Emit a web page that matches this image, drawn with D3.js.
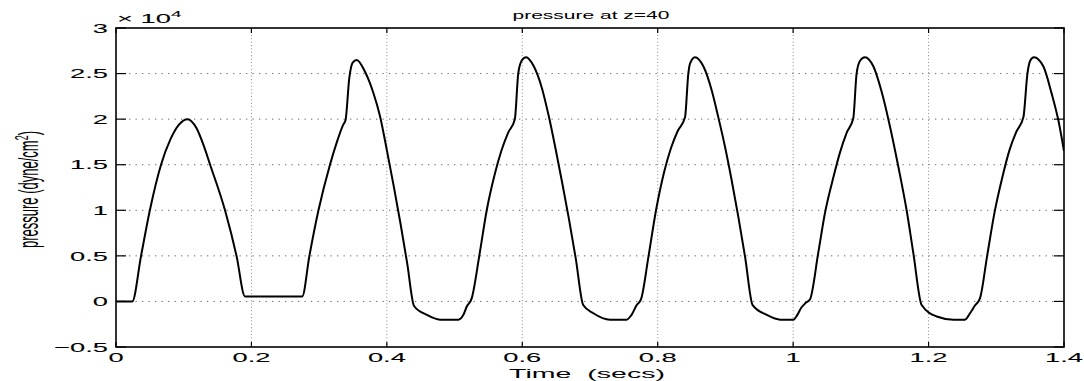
<!DOCTYPE html>
<html>
<head>
<meta charset="utf-8">
<script src="https://cdn.jsdelivr.net/npm/d3@7.9.0/dist/d3.min.js"></script>
<style>
  html, body { margin: 0; padding: 0; background: #fff; }
  svg { display: block; font-family: "Liberation Sans", Arial, Helvetica, sans-serif; }
</style>
</head>
<body>
<svg id="chart" width="1084" height="381"></svg>
<script>
// time in secs, pressure in units of 1e4 dyne/cm^2
const time = [
  0, 0.024, 0.037, 0.050, 0.0665, 0.0805, 0.093, 0.1056, 0.119, 0.129, 0.139, 0.161, 0.178, 0.1905,
  0.275, 0.2856, 0.299, 0.316, 0.3258, 0.3356, 0.339, 0.3445, 0.3495, 0.3555, 0.3677, 0.380, 0.390, 0.400,
  0.410, 0.420, 0.430, 0.4402, 0.4588, 0.4785, 0.5056, 0.513, 0.518, 0.5254, 0.5365, 0.5475, 0.5595, 0.569,
  0.579, 0.589, 0.594, 0.599, 0.6055, 0.617, 0.629, 0.6395, 0.649, 0.659, 0.669, 0.679, 0.690, 0.705, 0.7296, 0.754,
  0.7614, 0.769, 0.7754, 0.7865, 0.7975, 0.8095, 0.8195, 0.8295, 0.8403, 0.8452, 0.8477, 0.855, 0.8674, 0.8796,
  0.8895, 0.8993, 0.9092, 0.919, 0.929, 0.9402, 0.961, 0.981, 1.0003, 1.006, 1.012, 1.018, 1.025, 1.037,
  1.047, 1.0597, 1.069, 1.079, 1.0888, 1.0937, 1.0988, 1.106, 1.1184, 1.1307, 1.143, 1.1553, 1.1676, 1.1775,
  1.1898, 1.212, 1.2366, 1.2538, 1.2612, 1.268, 1.276, 1.2865, 1.2975, 1.3095, 1.3195, 1.3295, 1.34, 1.346, 1.35,
  1.3556, 1.3694, 1.3818, 1.3916, 1.4
];
const pressure = [
  0, 0, 0.5, 1.0, 1.5, 1.78, 1.94, 2.0, 1.9, 1.72, 1.5, 1.0, 0.5, 0.055,
  0.055, 0.5, 1.0, 1.5, 1.74, 1.94, 1.99, 2.45, 2.62, 2.65, 2.52, 2.29, 2.03, 1.66,
  1.27, 0.86, 0.42, -0.05, -0.147, -0.2, -0.2, -0.147, -0.056, 0.036, 0.5, 1.0, 1.4, 1.65,
  1.85, 2.0, 2.5, 2.64, 2.68, 2.58, 2.34, 2.02, 1.68, 1.30, 0.9, 0.47, -0.04, -0.13, -0.2, -0.2,
  -0.147, -0.04, 0.025, 0.5, 1.0, 1.42, 1.68, 1.87, 2.02, 2.5, 2.61, 2.68, 2.58, 2.32,
  2.02, 1.70, 1.33, 0.93, 0.49, -0.04, -0.147, -0.2, -0.2, -0.15, -0.07, -0.02, 0.025, 0.53,
  0.97, 1.37, 1.63, 1.85, 2.01, 2.5, 2.64, 2.68, 2.58, 2.30, 1.92, 1.48, 1.0, 0.53,
  -0.04, -0.165, -0.2, -0.2, -0.13, -0.05, 0.036, 0.5, 0.98, 1.38, 1.66, 1.86, 2.02, 2.5, 2.64,
  2.68, 2.58, 2.28, 1.99, 1.65
];
const xTicks = [0, 0.2, 0.4, 0.6, 0.8, 1, 1.2, 1.4];
const xTickLabels = ['0', '0.2', '0.4', '0.6', '0.8', '1', '1.2', '1.4'];
const yTicks = [-0.5, 0, 0.5, 1, 1.5, 2, 2.5, 3];
const yTickLabels = ['\u22120.5', '0', '0.5', '1', '1.5', '2', '2.5', '3'];

const SX = 2.1; // the figure's text is stretched horizontally
const FS = 13;
const margin = { left: 116, right: 20, top: 28, bottom: 34 };
const W = 1084, H = 381;

const svg = d3.select('#chart');
const x = d3.scaleLinear().domain([0, 1.4]).range([margin.left, W - margin.right]);
const y = d3.scaleLinear().domain([-0.5, 3]).range([H - margin.bottom, margin.top]);

function stretchedText(g, px, py, str, anchor, size) {
  return g.append('text')
    .attr('transform', `translate(${px},${py}) scale(${SX},1)`)
    .attr('text-anchor', anchor)
    .attr('font-size', size)
    .attr('fill', '#000')
    .attr('stroke', '#000')
    .attr('stroke-width', 0.08)
    .text(str);
}

// grid
const grid = svg.append('g');
grid.selectAll('line.h')
  .data(yTicks.slice(1, -1))
  .join('line')
  .attr('x1', x(0)).attr('x2', x(1.4))
  .attr('y1', d => y(d)).attr('y2', d => y(d))
  .attr('stroke', '#666').attr('stroke-width', 1)
  .attr('stroke-dasharray', '1.3,5.2');
grid.selectAll('line.v')
  .data(xTicks.slice(1, -1))
  .join('line')
  .attr('x1', d => x(d)).attr('x2', d => x(d))
  .attr('y1', y(3)).attr('y2', y(-0.5))
  .attr('stroke', '#888').attr('stroke-width', 1)
  .attr('stroke-dasharray', '1,2.4');

// curve
svg.append('clipPath').attr('id', 'clip')
  .append('rect')
  .attr('x', x(0)).attr('y', y(3))
  .attr('width', x(1.4) - x(0)).attr('height', y(-0.5) - y(3));

const pts = time.map((t, i) => [t, pressure[i]]);
const line = d3.line()
  .x(d => x(d[0]))
  .y(d => y(d[1]))
  .curve(d3.curveMonotoneX);

svg.append('path')
  .datum(pts)
  .attr('clip-path', 'url(#clip)')
  .attr('d', line)
  .attr('fill', 'none')
  .attr('stroke', '#000')
  .attr('stroke-width', 2)
  .attr('stroke-linejoin', 'round');

// box and inward ticks on all sides
const axisG = svg.append('g');
axisG.append('rect')
  .attr('x', x(0)).attr('y', y(3))
  .attr('width', x(1.4) - x(0)).attr('height', y(-0.5) - y(3))
  .attr('fill', 'none').attr('stroke', '#000').attr('stroke-width', 1.6);

xTicks.forEach(t => {
  axisG.append('line').attr('x1', x(t)).attr('x2', x(t))
    .attr('y1', y(-0.5)).attr('y2', y(-0.5) - 5)
    .attr('stroke', '#000').attr('stroke-width', 1.2);
  axisG.append('line').attr('x1', x(t)).attr('x2', x(t))
    .attr('y1', y(3)).attr('y2', y(3) + 5)
    .attr('stroke', '#000').attr('stroke-width', 1.2);
});
yTicks.forEach(v => {
  axisG.append('line').attr('x1', x(0)).attr('x2', x(0) + 10)
    .attr('y1', y(v)).attr('y2', y(v))
    .attr('stroke', '#000').attr('stroke-width', 1.2);
  axisG.append('line').attr('x1', x(1.4)).attr('x2', x(1.4) - 10)
    .attr('y1', y(v)).attr('y2', y(v))
    .attr('stroke', '#000').attr('stroke-width', 1.2);
});

// tick labels
xTicks.forEach((t, i) => stretchedText(svg, x(t), 362, xTickLabels[i], 'middle', FS));
yTicks.forEach((v, i) => stretchedText(svg, x(0) - 8, y(v) + 4.7, yTickLabels[i], 'end', FS));

// exponent label
const expo = stretchedText(svg, x(0) + 1, 23, '', 'start', FS);
expo.append('tspan').text('\u00d7 10');
expo.append('tspan').attr('font-size', 9).attr('dy', -6).text('4');

// title
stretchedText(svg, 591, 19, 'pressure at z=40', 'middle', 10).attr('stroke-width', 0);

// x label
stretchedText(svg, x(0.7) - 3, 378, 'Time\u00a0\u00a0(secs)', 'middle', 13.6).attr('stroke-width', 0);

// y label
const yl = svg.append('g')
  .attr('transform', `translate(38,${(y(3) + y(-0.5)) / 2 + 2}) scale(${SX},1)`)
  .append('text')
  .attr('transform', 'rotate(-90)')
  .attr('text-anchor', 'middle')
  .attr('font-size', FS)
  .attr('fill', '#000');
yl.append('tspan').text('pressure (dyne/cm');
yl.append('tspan').attr('font-size', 9).attr('dy', -5).text('2');
yl.append('tspan').attr('dy', 5).text(')');
</script>
</body>
</html>
